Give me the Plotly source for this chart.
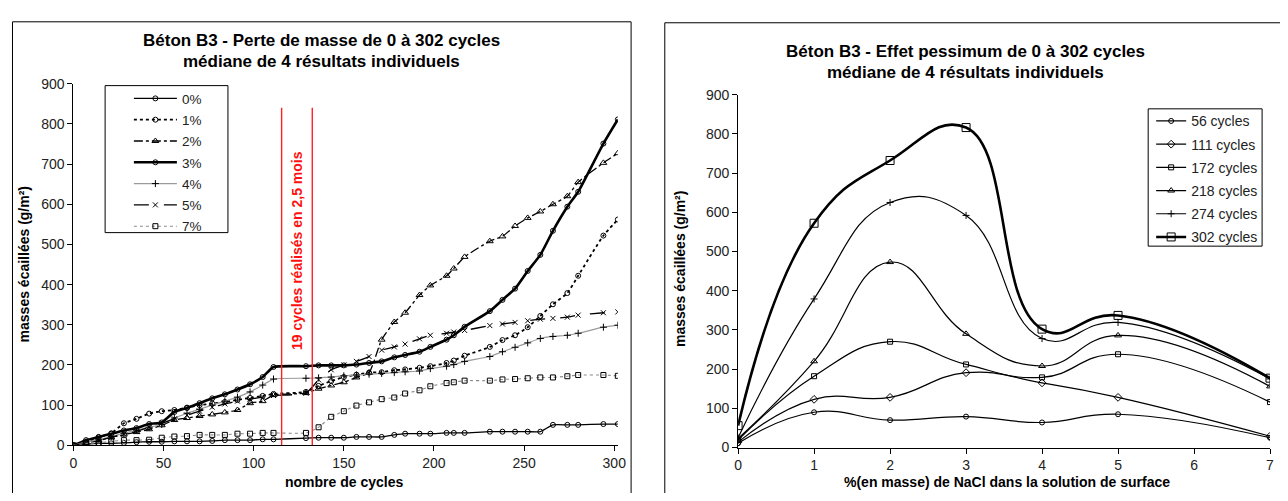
import plotly.graph_objects as go

# The page body has an 8 px margin, so the figure is sized to the visible area
# and every position below is given in window pixels.
OFF = 8
FW, FH = 1288 - 2 * OFF, 501 - 2 * OFF
FONT = "Arial, Liberation Sans, sans-serif"

# ---------------- Left chart data ----------------
cycles = [0, 7, 14, 21, 28, 35, 42, 49, 56, 63, 70, 77, 84, 91, 98, 105, 111,
          129, 136, 143, 150, 157, 164, 171, 178, 184, 192, 198, 207, 211, 217,
          231, 238, 245, 252, 259, 266, 274, 280, 294, 302]

nacl_0 = [0, 3, 5, 5, 6, 8, 9, 9, 10, 10, 10, 11, 13, 13, 13, 15, 15,
          18, 19, 19, 19, 21, 21, 21, 26, 29, 29, 29, 31, 31, 31,
          34, 34, 34, 34, 34, 51, 51, 51, 53, 53]
nacl_1 = [0, 8, 20, 30, 55, 66, 79, 85, 88, 94, 100, 104, 108, 113, 118, 123, 128,
          133, 148, 160, 170, 176, 181, 182, 187, 189, 193, 197, 205, 211, 223,
          245, 262, 274, 294, 322, 351, 379, 422, 522, 562]
nacl_2 = [0, 6, 12, 20, 27, 33, 40, 50, 63, 68, 73, 77, 82, 88, 105, 110, 125,
          130, 141, 149, 157, 169, 181, 263, 307, 330, 374, 398, 422, 440, 469,
          508, 520, 546, 566, 582, 600, 620, 655, 703, 727]
nacl_3 = [0, 13, 21, 29, 37, 43, 53, 57, 83, 93, 105, 117, 127, 139, 152, 170, 195,
          197, 199, 199, 199, 201, 205, 209, 219, 225, 233, 245, 263, 274, 295,
          334, 362, 390, 434, 474, 534, 594, 631, 751, 811]
nacl_4 = [0, 8, 14, 22, 30, 38, 45, 52, 68, 80, 90, 100, 110, 120, 133, 150, 165,
          167, 168, 170, 173, 175, 177, 179, 181, 183, 185, 191, 197, 201, 209,
          221, 233, 244, 255, 266, 271, 274, 279, 294, 299]
nacl_5 = [0, 6, 12, 20, 28, 35, 45, 55, 66, 75, 85, 95, 103, 110, 115, 120, 124,
          130, 163, 188, 200, 209, 221, 237, 245, 252, 265, 274, 279, 282, 286,
          298, 302, 306, 310, 314, 316, 319, 324, 330, 332]
nacl_7 = [0, 5, 6, 10, 13, 13, 14, 19, 22, 23, 26, 26, 26, 29, 29, 31, 31,
          31, 45, 71, 85, 99, 107, 115, 119, 129, 137, 147, 155, 157, 161,
          161, 164, 165, 167, 169, 169, 172, 175, 175, 173]

left_names = ["0%", "1%", "2%", "3%", "4%", "5%", "7%"]
left_values = [nacl_0, nacl_1, nacl_2, nacl_3, nacl_4, nacl_5, nacl_7]
left_styles = [
    dict(color="black", width=1.3, dash="solid", symbol="circle-open", msize=5),
    dict(color="black", width=1.8, dash="dot", symbol="circle-open", msize=5),
    dict(color="black", width=1.3, dash="dashdot", symbol="triangle-up-open", msize=6),
    dict(color="black", width=2.6, dash="solid", symbol="circle-open", msize=5),
    dict(color="#9a9a9a", width=1.2, dash="solid", symbol="cross-thin-open", msize=5),
    dict(color="black", width=1.3, dash="longdash", symbol="x-thin-open", msize=5),
    dict(color="#8a8a8a", width=1.1, dash="dot", symbol="square-open", msize=5),
]

# ---------------- Right chart data ----------------
nacl_pct = [0, 1, 2, 3, 4, 5, 7]
c56 = [11, 90, 70, 79, 64, 85, 25]
c111 = [14, 123, 128, 191, 165, 128, 29]
c172 = [19, 182, 270, 212, 179, 238, 116]
c218 = [23, 220, 473, 290, 208, 286, 156]
c274 = [25, 379, 625, 592, 278, 319, 175]
c302 = [56, 572, 732, 816, 302, 337, 177]

right_names = ["56 cycles", "111 cycles", "172 cycles", "218 cycles", "274 cycles", "302 cycles"]
right_values = [c56, c111, c172, c218, c274, c302]
right_styles = [
    dict(width=1.2, symbol="circle-open", msize=5),
    dict(width=1.2, symbol="diamond-open", msize=6),
    dict(width=1.2, symbol="square-open", msize=5),
    dict(width=1.2, symbol="triangle-up-open", msize=6),
    dict(width=1.2, symbol="cross-thin-open", msize=5),
    dict(width=2.6, symbol="square-open", msize=8),
]

fig = go.Figure()

for i, (name, vals, st) in enumerate(zip(left_names, left_values, left_styles)):
    fig.add_trace(go.Scatter(
        x=cycles, y=vals, name=name, mode="lines+markers",
        line=dict(color=st["color"], width=st["width"], dash=st["dash"],
                  shape="spline", smoothing=0.5),
        marker=dict(symbol=st["symbol"], size=st["msize"], color="black",
                    line=dict(color="black", width=1)),
        xaxis="x", yaxis="y", legend="legend", legendgroup="L%d" % i,
    ))

for i, (name, vals, st) in enumerate(zip(right_names, right_values, right_styles)):
    fig.add_trace(go.Scatter(
        x=nacl_pct, y=vals, name=name, mode="lines+markers",
        line=dict(color="black", width=st["width"], shape="spline", smoothing=1.3),
        marker=dict(symbol=st["symbol"], size=st["msize"], color="black",
                    line=dict(color="black", width=1)),
        xaxis="x2", yaxis="y2", legend="legend2", legendgroup="R%d" % i,
    ))

# window pixels -> figure paper fractions (margins are zero)
def px_x(p):
    return (p - OFF) / FW

def px_y(p):
    return 1 - (p - OFF) / FH

axis_common = dict(showgrid=False, zeroline=False, showline=True, linecolor="black",
                   linewidth=1, ticks="outside", ticklen=5, tickcolor="black",
                   tickfont=dict(family=FONT, size=14, color="#222"), fixedrange=True)

# red marker lines (period of 19 cycles in 2.5 months)
red_start, red_end = 115.5, 132.5
for xv in (red_start, red_end):
    fig.add_shape(type="line", xref="x", yref="y", x0=xv, x1=xv, y0=0, y1=840,
                  line=dict(color="#ff2020", width=1.4))

# chart frames
fig.add_shape(type="rect", xref="paper", yref="paper",
              x0=px_x(8.5), x1=px_x(633), y0=px_y(510), y1=px_y(14),
              line=dict(color="black", width=1))
fig.add_shape(type="rect", xref="paper", yref="paper",
              x0=px_x(667), x1=px_x(1300), y0=px_y(510), y1=px_y(15),
              line=dict(color="black", width=1))
# legend frames
fig.add_shape(type="rect", xref="paper", yref="paper",
              x0=px_x(102), x1=px_x(226), y0=px_y(232), y1=px_y(80),
              line=dict(color="black", width=1), fillcolor="white", layer="below")
fig.add_shape(type="rect", xref="paper", yref="paper",
              x0=px_x(1155), x1=px_x(1270), y0=px_y(246), y1=px_y(104),
              line=dict(color="black", width=1), fillcolor="white", layer="below")

ann = []
def text(x, y, s, size=14, bold=True, angle=0, color="black"):
    ann.append(dict(xref="paper", yref="paper", x=px_x(x), y=px_y(y), text=("<b>%s</b>" % s) if bold else s,
                    showarrow=False, textangle=angle, xanchor="center", yanchor="middle",
                    font=dict(family=FONT, size=size, color=color)))

text(320, 33, "Béton B3 - Perte de masse de 0 à 302 cycles", size=17)
text(320, 55, "médiane de 4 résultats individuels", size=17)
text(971, 45, "Béton B3 - Effet pessimum de 0 à 302 cycles", size=17)
text(971, 66, "médiane de 4 résultats individuels", size=17)
text(343, 490, "nombre de cycles", size=14)
text(1012, 490, "%(en masse) de NaCl dans la solution de surface", size=14)
text(20, 265, "masses écaillées (g/m²)", size=14, angle=-90)
text(683, 270, "masses écaillées (g/m²)", size=14, angle=-90)
ann.append(dict(xref="x", yref="y", x=(red_start + red_end) / 2, y=486,
                text="<b>19 cycles réalisés en 2,5 mois</b>", showarrow=False, textangle=-90,
                font=dict(family=FONT, size=14, color="#ff1010")))

fig.update_layout(
    width=FW, height=FH, autosize=False, margin=dict(l=0, r=0, t=0, b=0),
    paper_bgcolor="white", plot_bgcolor="white",
    font=dict(family=FONT, size=14, color="#222"),
    xaxis=dict(domain=[px_x(70), px_x(619.6)], range=[0, 302], tickvals=[0, 50, 100, 150, 200, 250, 300],
               anchor="y", **axis_common),
    yaxis=dict(domain=[px_y(452), px_y(78)], range=[0, 900], tickvals=list(range(0, 901, 100)),
               anchor="x", **axis_common),
    xaxis2=dict(domain=[px_x(741), px_x(1278)], range=[0, 7], tickvals=list(range(0, 8)),
                anchor="y2", **axis_common),
    yaxis2=dict(domain=[px_y(454.3), px_y(89.3)], range=[0, 900], tickvals=list(range(0, 901, 100)),
                anchor="x2", **axis_common),
    legend=dict(x=px_x(126), y=px_y(77.4), xanchor="left", yanchor="top",
                bgcolor="rgba(0,0,0,0)", borderwidth=0, itemwidth=43,
                tracegroupgap=0.75, font=dict(family=FONT, size=13.5, color="#222")),
    legend2=dict(x=px_x(1158), y=px_y(100.4), xanchor="left", yanchor="top",
                 bgcolor="rgba(0,0,0,0)", borderwidth=0, itemwidth=30,
                 tracegroupgap=2, font=dict(family=FONT, size=14, color="#222")),
    annotations=ann,
    showlegend=True,
)

fig.write_html("out.html", config={"responsive": False, "displayModeBar": False})
